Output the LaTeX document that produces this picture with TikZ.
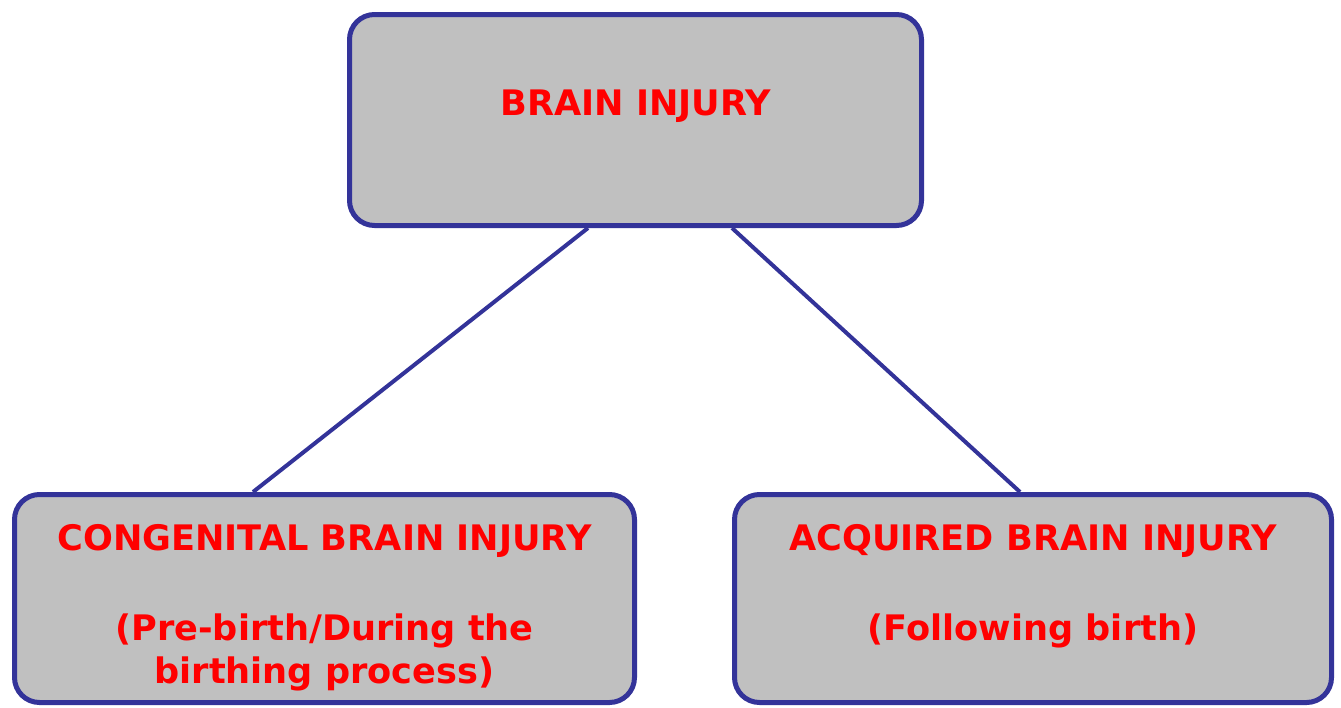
\documentclass[tikz,border=0pt]{standalone}
\usepackage{fontspec}
\setmainfont{DejaVu Sans}
\usetikzlibrary{positioning}

\definecolor{boxblue}{RGB}{51,51,153}
\definecolor{boxgray}{RGB}{192,192,192}

\tikzset{
  injurybox/.style={draw=boxblue, line width=0.1cm, fill=boxgray,
    rounded corners=0.5cm, inner sep=0pt},
  injurytext/.style={text=red, font=\bfseries\fontsize{20}{24}\selectfont,
    anchor=base, inner sep=0pt},
  link/.style={draw=boxblue, line width=0.08cm}
}

\begin{document}
\begin{tikzpicture}
  \useasboundingbox (0, 0) rectangle (26.82, -14.14);

  % top box
  \node[injurybox, minimum width=11.44cm, minimum height=4.22cm]
    (brain) at (12.71, -2.40) {};
  \node[injurytext] (brainlabel) at (12.71, -2.30) {BRAIN INJURY};

  % congenital
  \node[injurybox, minimum width=12.40cm, minimum height=4.16cm]
    (congenital) at (6.49, -11.97) {};
  \node[injurytext] (congenitallabel) at (6.49, -11.00) {CONGENITAL BRAIN INJURY};
  \node[injurytext] (congenitalnoteA) at (6.49, -12.80) {(Pre-birth/During the};
  \node[injurytext] (congenitalnoteB) at (6.49, -13.66) {birthing process)};

  % acquired
  \node[injurybox, minimum width=11.94cm, minimum height=4.16cm]
    (acquired) at (20.66, -11.97) {};
  \node[injurytext] (acquiredlabel) at (20.66, -11.00) {ACQUIRED BRAIN INJURY};
  \node[injurytext] (acquirednote) at (20.66, -12.80) {(Following birth)};

  % links
  \draw[link] ([xshift=-0.95cm]brain.south) -- ([xshift=-1.43cm]congenital.north);
  \draw[link] ([xshift=1.93cm]brain.south) -- ([xshift=-0.26cm]acquired.north);

\end{tikzpicture}
\end{document}
